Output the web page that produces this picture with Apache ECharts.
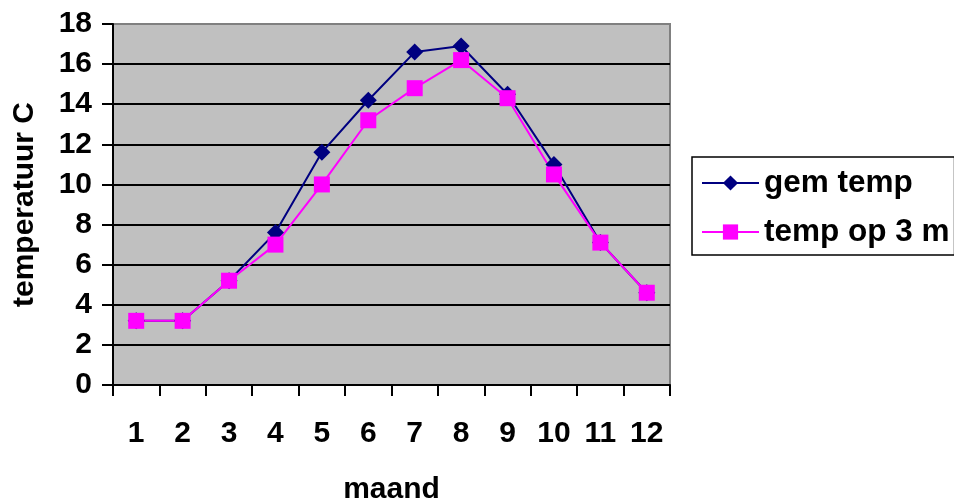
<!DOCTYPE html>
<html>
<head>
<meta charset="utf-8">
<script src="https://cdn.jsdelivr.net/npm/echarts@6/dist/echarts.min.js"></script>
<style>
  html, body { margin: 0; padding: 0; background: #ffffff; }
  #chart { width: 954px; height: 499px; }
</style>
</head>
<body>
<div id="chart"></div>
<script>
// Monthly temperatures (°C)
const months = ['1', '2', '3', '4', '5', '6', '7', '8', '9', '10', '11', '12'];
const gemTemp = [3.2, 3.2, 5.2, 7.6, 11.6, 14.2, 16.6, 16.9, 14.5, 11.0, 7.1, 4.6];
const tempOp3m = [3.2, 3.2, 5.2, 7.0, 10.0, 13.2, 14.8, 16.2, 14.3, 10.5, 7.1, 4.6];
const seriesNames = ['gem temp', 'temp op 3 m'];

const FONT = '"Liberation Sans", Arial, sans-serif';
const chart = echarts.init(document.getElementById('chart'), null, { renderer: 'canvas' });

// gridline colours: top line blends into the plot border
const splitColors = ['#000', '#000', '#000', '#000', '#000', '#000', '#000', '#000', '#000', '#808080'];

chart.setOption({
  animation: false,
  backgroundColor: '#ffffff',
  grid: {
    left: 113, top: 24, right: 284, bottom: 114,
    show: true,
    backgroundColor: '#c0c0c0',
    borderColor: '#808080',
    borderWidth: 2,
    containLabel: false,
    outerBoundsMode: 'none'
  },
  legend: {
    orient: 'vertical',
    left: 692, top: 157,
    padding: [10, 5, 7, 9],
    itemGap: 17,
    itemWidth: 57,
    itemHeight: 19,
    borderColor: '#000',
    borderWidth: 1.5,
    backgroundColor: '#ffffff',
    textStyle: { fontFamily: FONT, fontWeight: 'bold', fontSize: 31.5, color: '#000', lineHeight: 30, padding: [0, 0, 0, 0] },
    data: seriesNames
  },
  xAxis: {
    type: 'category',
    data: months,
    boundaryGap: true,
    name: 'maand',
    nameLocation: 'middle',
    nameGap: 90,
    nameTextStyle: { fontFamily: FONT, fontWeight: 'bold', fontSize: 30, color: '#000' },
    axisLine: { lineStyle: { color: '#000', width: 2 } },
    axisTick: { show: true, interval: 0, length: 11, inside: false, lineStyle: { color: '#000', width: 2 } },
    axisLabel: { interval: 0, margin: 34, fontFamily: FONT, fontWeight: 'bold', fontSize: 30, color: '#000' },
    splitLine: { show: false }
  },
  yAxis: {
    type: 'value',
    min: 0, max: 18, interval: 2,
    name: 'temperatuur C',
    nameLocation: 'middle',
    nameGap: 73,
    nameRotate: 90,
    nameTextStyle: { fontFamily: FONT, fontWeight: 'bold', fontSize: 30, color: '#000' },
    axisLine: { show: true, lineStyle: { color: '#000', width: 2 } },
    axisTick: { show: true, length: 11, lineStyle: { color: '#000', width: 2 } },
    axisLabel: { margin: 21, fontFamily: FONT, fontWeight: 'bold', fontSize: 30, color: '#000' },
    splitLine: { show: true, lineStyle: { color: splitColors, width: 2 } }
  },
  series: [
    {
      name: seriesNames[0],
      type: 'line',
      data: gemTemp,
      symbol: 'diamond',
      symbolSize: 17,
      showAllSymbol: true,
      color: '#000080',
      lineStyle: { color: '#000080', width: 2 },
      itemStyle: { color: '#000080' }
    },
    {
      name: seriesNames[1],
      type: 'line',
      data: tempOp3m,
      symbol: 'rect',
      symbolSize: 16,
      showAllSymbol: true,
      color: '#ff00ff',
      lineStyle: { color: '#ff00ff', width: 2 },
      itemStyle: { color: '#ff00ff' }
    }
  ]
});
</script>
</body>
</html>
